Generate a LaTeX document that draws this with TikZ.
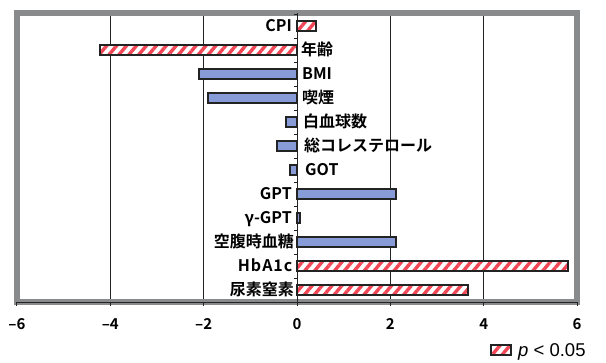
\documentclass[tikz,border=0pt]{standalone}
\usepackage{fontspec}
\setmainfont{Noto Sans CJK JP}[BoldFont={Noto Sans CJK JP Bold}]
\newfontfamily\legfont{Liberation Sans}
\usetikzlibrary{patterns.meta}
\definecolor{framegray}{RGB}{136,138,140}
\definecolor{barblue}{RGB}{135,155,214}
\definecolor{stripered}{RGB}{240,70,86}
\definecolor{edgecol}{RGB}{35,35,35}
\begin{document}
\begin{tikzpicture}[x=1pt,y=-1pt,
  barbase/.style={draw=edgecol, line width=2pt},
  bluebar/.style={barbase, fill=barblue},
  hatchbar/.style={barbase, preaction={fill=white},
    pattern={Lines[angle=50,distance=7.6pt,line width=3.4pt]}, pattern color=stripered},
  grid/.style={draw=edgecol, line width=0.9pt},
  axisline/.style={draw=edgecol, line width=1pt},
  llab/.style={anchor=base east, inner sep=0pt, font=\fontsize{16}{16}\selectfont\bfseries},
  rlab/.style={anchor=base west, inner sep=0pt, font=\fontsize{16}{16}\selectfont\bfseries},
  ticklab/.style={anchor=center, inner sep=0pt, font=\fontsize{15}{15}\selectfont\bfseries}
]
\useasboundingbox (0,0) rectangle (606,362);
\fill[white] (0,0) rectangle (606,362);
% plot area
\fill[white] (17,13) rectangle (577,302);
% gridlines
\foreach \v in {-4,-2,2,4} \draw[grid] ({297+\v*46.67},13) -- ({297+\v*46.67},302);
% frame
\draw[framegray, line width=6pt] (17,13) rectangle (577,302);
% bars
\def\hh{4.8}
\draw[hatchbar] (297,26-\hh) rectangle ({297+0.41*46.67},26+\hh);
\draw[hatchbar] ({297-4.22*46.67},50-\hh) rectangle (297,50+\hh);
\draw[bluebar] ({297-2.10*46.67},74-\hh) rectangle (297,74+\hh);
\draw[bluebar] ({297-1.90*46.67},98-\hh) rectangle (297,98+\hh);
\draw[bluebar] ({297-0.24*46.67},122-\hh) rectangle (297,122+\hh);
\draw[bluebar] ({297-0.42*46.67},146-\hh) rectangle (297,146+\hh);
\draw[bluebar] ({297-0.16*46.67},170-\hh) rectangle (297,170+\hh);
\draw[bluebar] (297,194-\hh) rectangle ({297+2.13*46.67},194+\hh);
\draw[bluebar] (297,218-\hh) rectangle ({297+0.06*46.67},218+\hh);
\draw[bluebar] (297,242-\hh) rectangle ({297+2.13*46.67},242+\hh);
\draw[hatchbar] (297,266-\hh) rectangle ({297+5.80*46.67},266+\hh);
\draw[hatchbar] (297,290-\hh) rectangle ({297+3.67*46.67},290+\hh);
% axes
\draw[axisline] (297,13) -- (297,302);
\draw[axisline] (17,302) -- (577,302);
\foreach \k in {0,...,12} \draw[axisline] (293.5,{14+24*\k}) -- (297,{14+24*\k});
\foreach \v in {-6,-4,-2,0,2,4,6} \draw[axisline] ({297+\v*46.67},302) -- ({297+\v*46.67},305.5);
% category labels
\node[llab] (cpi) at (292,31.5) {CPI};
\node[rlab] (age) at (301,55.5) {年齢};
\node[rlab] (bmi) at (302,79.5) {BMI};
\node[rlab] (smk) at (302,103.5) {喫煙};
\node[rlab] (wbc) at (303,127.5) {白血球数};
\node[rlab] (chol) at (304,151.5) {総コレステロール};
\node[rlab] (got) at (305,175.5) {GOT};
\node[llab] (gpt) at (292,199.5) {GPT};
\node[llab] (ggt) at (292,223.5) {γ-GPT};
\node[llab] (fbs) at (294,247.5) {空腹時血糖};
\node[llab] (hba) at (292.5,271.5) {\addfontfeature{LetterSpace=6}HbA1c};
\node[llab] (bun) at (294,295.5) {尿素窒素};
% tick labels
\node[ticklab] (tm6) at ({297-6*46.67},324) {–6};
\node[ticklab] (tm4) at ({297-4*46.67},324) {–4};
\node[ticklab] (tm2) at ({297-2*46.67},324) {–2};
\node[ticklab] (t0) at (297,324) {0};
\node[ticklab] (t2) at ({297+2*46.67},324) {2};
\node[ticklab] (t4) at ({297+4*46.67},324) {4};
\node[ticklab] (t6) at ({297+6*46.67},324) {6};
% legend
\draw[hatchbar, line width=1.6pt] (491,345) rectangle (511,355);
\node[anchor=west, inner sep=0pt, font=\legfont\fontsize{18.5}{18.5}\selectfont] (leg) at (518,351.5) {\textit{p} < 0.05};
\end{tikzpicture}
\end{document}
